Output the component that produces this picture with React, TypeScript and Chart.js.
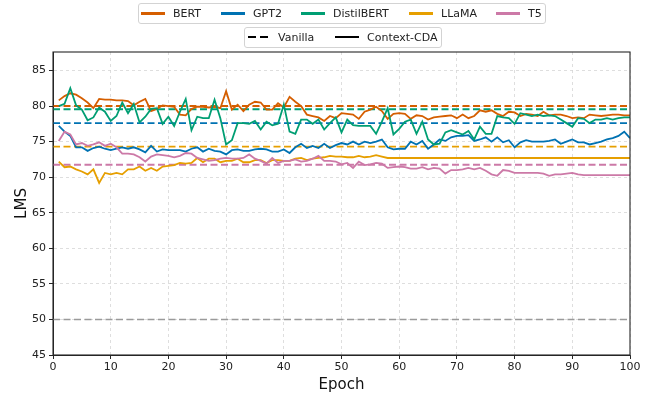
import React, { useEffect, useRef } from "react";
import { Chart, registerables } from "chart.js";
Chart.register(...registerables);

const epochs = [
  1, 2, 3, 4, 5, 6, 7, 8, 9, 10, 11, 12, 13, 14, 15, 16, 17, 18, 19, 20,
  21, 22, 23, 24, 25, 26, 27, 28, 29, 30, 31, 32, 33, 34, 35, 36, 37, 38, 39, 40,
  41, 42, 43, 44, 45, 46, 47, 48, 49, 50, 51, 52, 53, 54, 55, 56, 57, 58, 59, 60,
  61, 62, 63, 64, 65, 66, 67, 68, 69, 70, 71, 72, 73, 74, 75, 76, 77, 78, 79, 80,
  81, 82, 83, 84, 85, 86, 87, 88, 89, 90, 91, 92, 93, 94, 95, 96, 97, 98, 99, 100,
];

const bertCDA = [
  80.8, 81.4, 81.8, 81.6, 81.1, 80.5, 79.7, 81.0, 80.9, 80.9,
  80.8, 80.8, 80.7, 80.1, 80.6, 81.0, 79.3, 79.6, 80.1, 80.0,
  79.9, 78.8, 78.7, 79.6, 79.9, 79.9, 79.8, 79.9, 79.7, 82.1,
  79.5, 80.2, 79.3, 80.2, 80.6, 80.5, 79.5, 79.5, 80.4, 79.8,
  81.3, 80.6, 80.0, 78.8, 78.6, 78.4, 77.9, 78.6, 78.3, 79.0,
  78.9, 78.8, 78.2, 79.2, 79.5, 79.9, 79.3, 78.2, 78.9, 79.0,
  78.9, 78.2, 78.7, 78.6, 78.1, 78.4, 78.5, 78.6, 78.7, 78.3,
  78.8, 78.3, 78.6, 79.4, 79.2, 79.4, 78.9, 78.6, 79.2, 79.1,
  78.6, 78.9, 78.8, 78.6, 79.2, 78.7, 78.8, 78.8, 78.6, 78.3,
  78.4, 78.3, 78.8, 78.7, 78.6, 78.7, 78.8, 78.8, 78.7, 78.7,
];

const gpt2CDA = [
  77.2, 76.4, 75.8, 74.2, 74.2, 73.7, 74.1, 74.3, 74.0, 73.8,
  74.0, 74.2, 74.0, 74.2, 73.9, 73.5, 74.4, 73.6, 73.9, 73.8,
  73.8, 73.8, 73.6, 74.0, 74.2, 73.6, 74.0, 73.7, 73.6, 73.2,
  73.8, 73.9, 73.7, 73.7, 73.9, 74.0, 73.9, 73.6, 73.6, 73.9,
  73.4, 74.2, 74.7, 74.1, 74.4, 74.1, 74.7, 74.1, 74.5, 74.8,
  74.6, 75.0, 74.6, 75.0, 74.8, 75.0, 75.3, 74.2, 73.9, 74.0,
  74.0, 75.0, 74.6, 75.1, 74.0, 74.6, 75.3, 75.1, 75.6, 75.8,
  75.8, 75.9, 75.1, 75.3, 75.6, 75.0, 75.6, 74.9, 75.2, 74.2,
  74.9, 75.2, 75.0, 75.0, 75.0, 75.1, 75.3, 74.7, 75.0, 75.3,
  74.9, 74.9, 74.6, 74.8, 75.0, 75.3, 75.5, 75.8, 76.4, 75.5,
];

const distilCDA = [
  80.0, 80.3, 82.5, 80.1, 79.5, 78.0, 78.4, 79.8, 79.2, 77.9,
  78.6, 80.5, 79.0, 80.3, 77.7, 78.5, 79.6, 79.7, 77.5, 78.5,
  77.2, 79.2, 81.0, 76.6, 78.5, 78.3, 78.3, 80.9, 78.3, 74.6,
  75.2, 77.6, 77.6, 77.5, 77.9, 76.7, 77.8, 77.3, 77.5, 80.2,
  76.4, 76.1, 78.1, 78.1, 77.5, 78.1, 76.7, 77.6, 78.4, 76.3,
  78.1, 77.3, 77.2, 77.2, 77.2, 76.1, 77.8, 79.7, 76.0, 76.8,
  77.8, 78.1, 76.1, 77.8, 75.3, 74.6, 74.7, 76.3, 76.6, 76.3,
  76.0, 76.5, 75.3, 77.1, 76.1, 76.1, 78.6, 78.4, 78.3, 77.5,
  79.0, 78.8, 78.6, 78.8, 78.6, 78.7, 78.6, 78.1, 77.6, 77.1,
  78.3, 78.2, 77.6, 78.1, 78.1, 78.3, 78.1, 78.3, 78.4, 78.4,
];

const llamaCDA = [
  72.2, 71.4, 71.5, 71.1, 70.8, 70.4, 71.1, 69.2, 70.6, 70.4,
  70.6, 70.4, 71.1, 71.1, 71.5, 70.9, 71.3, 70.9, 71.5, 71.6,
  71.7, 72.0, 71.9, 72.0, 72.7, 72.1, 72.6, 72.6, 72.1, 72.3,
  72.3, 72.6, 72.1, 72.1, 72.4, 72.4, 72.0, 72.4, 72.4, 72.3,
  72.3, 72.6, 72.7, 72.4, 72.6, 72.7, 72.8, 73.0, 72.9, 72.9,
  72.8, 72.8, 73.0, 72.8, 72.9, 73.1, 72.9, 72.7, 72.7, 72.7,
  72.7, 72.7, 72.7, 72.7, 72.7, 72.7, 72.7, 72.7, 72.7, 72.7,
  72.7, 72.7, 72.7, 72.7, 72.7, 72.7, 72.7, 72.7, 72.7, 72.7,
  72.7, 72.7, 72.7, 72.7, 72.7, 72.7, 72.7, 72.7, 72.7, 72.7,
  72.7, 72.7, 72.7, 72.7, 72.7, 72.7, 72.7, 72.7, 72.7, 72.7,
];

const t5CDA = [
  75.1, 76.4, 76.0, 74.6, 74.8, 74.4, 74.6, 74.9, 74.4, 74.7,
  74.2, 73.3, 73.3, 73.2, 72.8, 72.2, 72.9, 73.2, 73.1, 73.0,
  72.8, 73.0, 73.4, 73.3, 72.7, 72.5, 72.3, 72.4, 72.6, 72.7,
  72.6, 72.6, 72.7, 73.2, 72.6, 72.3, 71.9, 72.7, 72.0, 72.3,
  72.3, 72.5, 72.2, 72.3, 72.6, 73.0, 72.3, 72.3, 72.2, 71.8,
  72.0, 71.3, 72.2, 71.7, 71.8, 72.0, 71.9, 71.3, 71.4, 71.5,
  71.4, 71.2, 71.2, 71.4, 71.1, 71.3, 71.2, 70.5, 71.0, 71.0,
  71.1, 71.3, 71.1, 71.3, 70.9, 70.4, 70.2, 71.0, 70.9, 70.6,
  70.6, 70.6, 70.6, 70.6, 70.5, 70.2, 70.4, 70.4, 70.5, 70.6,
  70.4, 70.3, 70.3, 70.3, 70.3, 70.3, 70.3, 70.3, 70.3, 70.3,
];

const modelNames = ["BERT", "GPT2", "DistilBERT", "LLaMA", "T5"];
const modelColors = ["#D55E00", "#0072B2", "#009E73", "#E69F00", "#CC79A7"];
const cdaSeries = [bertCDA, gpt2CDA, distilCDA, llamaCDA, t5CDA];
const vanillaValues = [80.0, 77.6, 79.55, 74.3, 71.75];
const baselineValue = 50;

const xTicks = [0, 10, 20, 30, 40, 50, 60, 70, 80, 90, 100];
const yTicks = [45, 50, 55, 60, 65, 70, 75, 80, 85];

const FONT = "'DejaVu Sans', sans-serif";

const framePlugin = {
  id: "frame",
  afterDraw(chart: any) {
    const { ctx, chartArea } = chart;
    const { left, top, right, bottom } = chartArea;
    ctx.save();
    ctx.strokeStyle = "#262626";
    ctx.lineWidth = 1.1;
    ctx.setLineDash([]);
    ctx.strokeRect(left, top, right - left, bottom - top);
    ctx.restore();
  },
};

export default function App() {
  const ref = useRef<HTMLCanvasElement | null>(null);

  useEffect(() => {
    if (!ref.current) return;
    const solid = modelNames.map((name, k) => ({
      label: name + " Context-CDA",
      data: epochs.map((e, i) => ({ x: e, y: cdaSeries[k][i] })),
      borderColor: modelColors[k],
      backgroundColor: modelColors[k],
      borderWidth: 1.8,
      pointRadius: 0,
      tension: 0,
      order: 10 - k,
    }));
    const dashed = modelNames.map((name, k) => ({
      label: name + " Vanilla",
      data: [
        { x: 0, y: vanillaValues[k] },
        { x: 100, y: vanillaValues[k] },
      ],
      borderColor: modelColors[k],
      backgroundColor: modelColors[k],
      borderWidth: 1.9,
      borderDash: [7, 3.5],
      pointRadius: 0,
      order: 30 - k,
    }));
    const base = {
      label: "Baseline",
      data: [
        { x: 0, y: baselineValue },
        { x: 100, y: baselineValue },
      ],
      borderColor: "#9a9a9a",
      backgroundColor: "#9a9a9a",
      borderWidth: 1.6,
      borderDash: [7, 3.5],
      pointRadius: 0,
      order: 40,
    };

    const chart = new Chart(ref.current, {
      type: "line",
      data: { datasets: [...solid, ...dashed, base] as any },
      options: {
        responsive: false,
        animation: false,
        layout: { padding: { top: 52, right: 27, left: 0, bottom: 0 } },
        plugins: { legend: { display: false }, tooltip: { enabled: false } },
        scales: {
          x: {
            type: "linear",
            min: 0,
            max: 100,
            afterFit(scale: any) {
              scale.height = 39;
            },
            afterBuildTicks(scale: any) {
              scale.ticks = xTicks.map((v) => ({ value: v }));
            },
            ticks: {
              color: "#222",
              font: { family: FONT, size: 11 },
              padding: 2,
              maxRotation: 0,
              autoSkip: false,
            },
            grid: {
              color: "#d6d6d6",
              lineWidth: 0.8,
              tickColor: "#262626",
              tickLength: 4,
              tickWidth: 1,
            },
            border: { display: true, color: "#262626", dash: [3, 3] },
            title: {
              display: true,
              text: "Epoch",
              color: "#111",
              font: { family: FONT, size: 15 },
              padding: { top: 0, bottom: 0 },
            },
          },
          y: {
            type: "linear",
            min: 45,
            max: 87.6,
            afterFit(scale: any) {
              scale.width = 53;
            },
            afterBuildTicks(scale: any) {
              scale.ticks = yTicks.map((v) => ({ value: v }));
            },
            ticks: {
              color: "#222",
              font: { family: FONT, size: 11 },
              padding: 3,
              autoSkip: false,
            },
            grid: {
              color: "#d6d6d6",
              lineWidth: 0.8,
              tickColor: "#262626",
              tickLength: 4,
              tickWidth: 1,
            },
            border: { display: true, color: "#262626", dash: [3, 3] },
            title: {
              display: true,
              text: "LMS",
              color: "#111",
              font: { family: FONT, size: 15 },
              padding: { top: 13, bottom: 0 },
            },
          },
        },
      } as any,
      plugins: [framePlugin],
    });
    return () => chart.destroy();
  }, []);

  const legendText: React.CSSProperties = {
    position: "absolute",
    top: 0,
    fontFamily: FONT,
    fontSize: 11,
    color: "#222",
    lineHeight: "19px",
    whiteSpace: "nowrap",
  };

  const topItems = [
    { line: 141, text: 173 },
    { line: 221, text: 253 },
    { line: 301, text: 333 },
    { line: 409, text: 441 },
    { line: 496, text: 528 },
  ];

  return (
    <div style={{ position: "fixed", left: 0, top: 0, width: 657, height: 394, background: "#fff" }}>
      <canvas ref={ref} width={657} height={394} style={{ position: "absolute", left: 0, top: 0 }} />
      <div
        style={{
          position: "absolute",
          left: 138,
          top: 3,
          width: 406,
          height: 19,
          border: "1px solid #d3d3d3",
          borderRadius: 3,
          background: "rgba(255,255,255,0.85)",
        }}
      />
      {modelNames.map((name, k) => (
        <React.Fragment key={name}>
          <div
            style={{
              position: "absolute",
              left: topItems[k].line,
              top: 11.5,
              width: 24,
              height: 3,
              background: modelColors[k],
            }}
          />
          <div style={{ ...legendText, left: topItems[k].text, top: 3.5 }}>{name}</div>
        </React.Fragment>
      ))}
      <div
        style={{
          position: "absolute",
          left: 244,
          top: 27,
          width: 196,
          height: 19,
          border: "1px solid #d3d3d3",
          borderRadius: 3,
          background: "rgba(255,255,255,0.85)",
        }}
      />
      <div style={{ position: "absolute", left: 248, top: 35.5, width: 8, height: 2.5, background: "#000" }} />
      <div style={{ position: "absolute", left: 260, top: 35.5, width: 8, height: 2.5, background: "#000" }} />
      <div style={{ ...legendText, left: 278, top: 27.5 }}>Vanilla</div>
      <div style={{ position: "absolute", left: 335, top: 35.5, width: 24, height: 2.5, background: "#000" }} />
      <div style={{ ...legendText, left: 367, top: 27.5 }}>Context-CDA</div>
    </div>
  );
}
